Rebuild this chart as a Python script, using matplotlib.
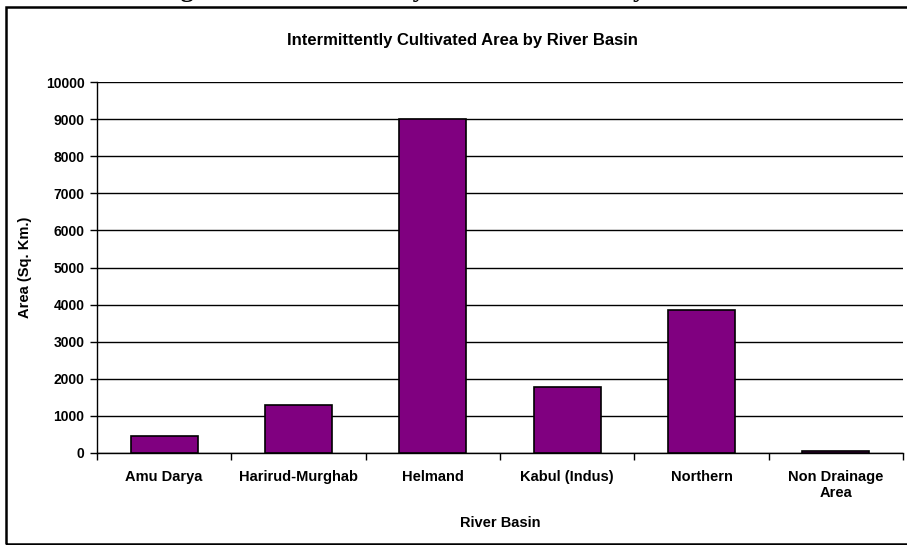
#!/usr/bin/env python3

import matplotlib
matplotlib.use("Agg")
import matplotlib.pyplot as plt
from matplotlib.patches import Rectangle

basins = ["Amu Darya", "Harirud-Murghab", "Helmand", "Kabul (Indus)",
          "Northern", "Non Drainage\nArea"]
area_sqkm = [460, 1300, 8990, 1770, 3860, 55]
y_ticks = list(range(0, 10001, 1000))

W, H = 907, 545
plt.rcParams['font.family'] = ['Liberation Sans', 'DejaVu Sans']

fig = plt.figure(figsize=(W / 100, H / 100), dpi=100)
ax = fig.add_axes([97 / W, 1 - 453 / H, (903 - 97) / W, (453 - 82) / H])

x = list(range(len(basins)))
ax.bar(x, area_sqkm, width=0.5, color='#800080', edgecolor='black',
       linewidth=1.2, zorder=3)

ax.set_xlim(-0.5, len(basins) - 0.5)
ax.set_ylim(0, 10000)
ax.set_yticks(y_ticks)
ax.set_yticklabels([str(v) for v in y_ticks], fontsize=10, fontweight='bold')
ax.yaxis.grid(True, color='black', linewidth=1.0, zorder=0)

# category labels centred, tick marks between categories
ax.set_xticks(x)
ax.set_xticklabels(basins, fontsize=10.5, fontweight='bold', linespacing=1.25)
ax.tick_params(axis='x', length=0, pad=12)
ax.set_xticks([i - 0.5 for i in range(len(basins) + 1)], minor=True)
ax.tick_params(axis='x', which='minor', length=5, width=1, direction='out')
ax.tick_params(axis='y', length=5, width=1, direction='out', pad=4)

for side in ['top', 'right']:
    ax.spines[side].set_visible(False)
ax.spines['left'].set_linewidth(1.0)
ax.spines['bottom'].set_linewidth(1.0)

ax.set_xlabel("River Basin", fontsize=10.5, fontweight='bold', labelpad=11)
ax.set_ylabel("Area (Sq. Km.)", fontsize=10.5, fontweight='bold', labelpad=10)
fig.text(462 / W, 1 - 40 / H, "Intermittently Cultivated Area by River Basin",
         ha='center', va='center', fontsize=12, fontweight='bold')

# outer frame of the chart object
fig.patches.append(Rectangle((6 / W, 1 / H), 1.0, (543 - 6) / H,
                             transform=fig.transFigure, fill=False,
                             edgecolor='black', linewidth=1.8))

# caption cut off at top of the page crop
fig.text(471 / W, 1 + 3 / H, "Figure 3: Intermittently Cultivated Area by River Basin",
         ha='center', va='baseline', fontsize=19, fontweight='bold',
         family=['Liberation Serif', 'DejaVu Serif'])

fig.savefig("out.png", dpi=100)
